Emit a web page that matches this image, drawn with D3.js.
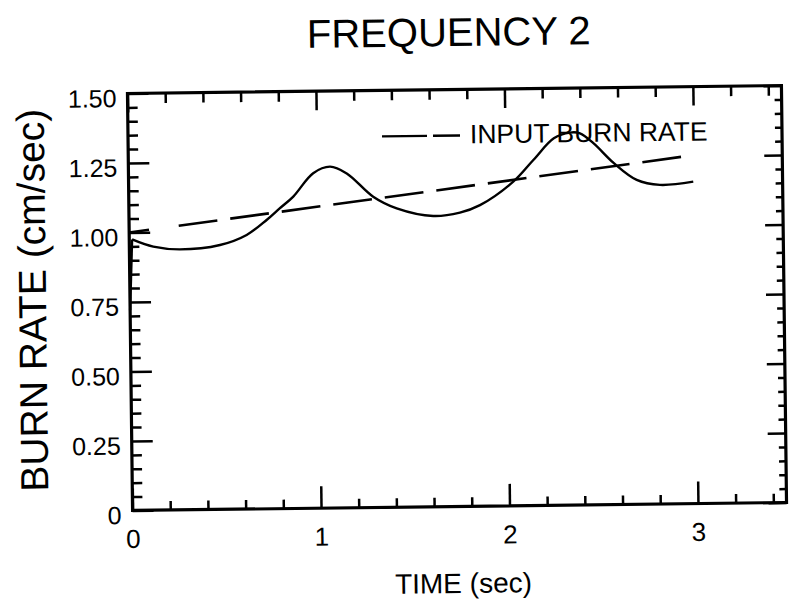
<!DOCTYPE html>
<html>
<head>
<meta charset="utf-8">
<script src="https://cdn.jsdelivr.net/npm/d3@7/dist/d3.min.js"></script>
<style>
  html, body { margin: 0; padding: 0; background: #fff; }
  svg { display: block; font-family: "Liberation Sans", Arial, Helvetica, sans-serif; }
</style>
</head>
<body>
<svg id="chart" width="792" height="607"></svg>
<script>
// ---- data ----
const timeSec  = [0, 0.015, 0.127, 0.268, 0.481, 0.623, 0.730, 0.800, 0.873, 0.980, 1.070, 1.158, 1.297, 1.421, 1.614, 1.756, 1.863, 2.041, 2.149, 2.259, 2.345, 2.398, 2.470, 2.576, 2.696, 2.819, 2.996];
const burnRate = [0.72, 0.975, 0.948, 0.937, 0.951, 0.986, 1.039, 1.080, 1.122, 1.205, 1.228, 1.203, 1.118, 1.075, 1.046, 1.057, 1.083, 1.166, 1.243, 1.320, 1.340, 1.337, 1.300, 1.228, 1.167, 1.148, 1.158];
const inputTime = [0, 2.96];
const inputRate = [1.0, 1.25];

const xMajor = [0, 1, 2, 3];
const xLabels = ["0", "1", "2", "3"];
const xMinor = [0.2, 0.4, 0.6, 0.8, 1.2, 1.4, 1.6, 1.8, 2.2, 2.4, 2.6, 2.8, 3.2, 3.4];
const yMajor = [0, 0.25, 0.5, 0.75, 1.0, 1.25, 1.5];
const yLabels = ["0", "0.25", "0.50", "0.75", "1.00", "1.25", "1.50"];
const yMinor = [0.05,0.1,0.15,0.2,0.3,0.35,0.4,0.45,0.55,0.6,0.65,0.7,0.8,0.85,0.9,0.95,1.05,1.1,1.15,1.2,1.3,1.35,1.4,1.45];

const titleText = "FREQUENCY 2";
const xTitle = "TIME (sec)";
const yTitle = "BURN RATE (cm/sec)";
const legendText = "INPUT BURN RATE";

// ---- layout ----
const L = 130, R = 784, T = 89.5, B = 506.5;
const x = d3.scaleLinear().domain([0, 3.47]).range([L, R]);
const y = d3.scaleLinear().domain([0, 1.5]).range([B, T]);

const svg = d3.select("#chart");
const g = svg.append("g").attr("transform", "rotate(-0.7, 457, 298)");

function styleAxis(sel, fontSize) {
  sel.select(".domain").remove();
  sel.selectAll(".tick line").attr("stroke", "#000").attr("stroke-width", 2.5);
  sel.selectAll(".tick text").attr("fill", "#000").attr("font-size", fontSize)
     .attr("font-family", "'Liberation Sans', Arial, sans-serif");
}

// left axis
g.append("g").attr("transform", `translate(${L},0)`)
  .call(d3.axisLeft(y).tickValues(yMinor).tickSize(-10).tickFormat(""))
  .call(s => styleAxis(s, 25));
g.append("g").attr("transform", `translate(${L},0)`)
  .call(d3.axisLeft(y).tickValues(yMajor).tickSize(-21).tickPadding(11)
        .tickFormat((d, i) => yLabels[i]))
  .call(s => styleAxis(s, 25))
  .call(s => s.selectAll(".tick text").attr("dy", "0.52em"));

// right axis
g.append("g").attr("transform", `translate(${R},0)`)
  .call(d3.axisRight(y).tickValues(yMinor).tickSize(-7).tickFormat(""))
  .call(s => styleAxis(s, 25));
g.append("g").attr("transform", `translate(${R},0)`)
  .call(d3.axisRight(y).tickValues(yMajor).tickSize(-18).tickFormat(""))
  .call(s => styleAxis(s, 25));

// top axis
g.append("g").attr("transform", `translate(0,${T})`)
  .call(d3.axisTop(x).tickValues(xMinor).tickSize(-10).tickFormat(""))
  .call(s => styleAxis(s, 25));
g.append("g").attr("transform", `translate(0,${T})`)
  .call(d3.axisTop(x).tickValues(xMajor).tickSize(-19).tickFormat(""))
  .call(s => styleAxis(s, 25));

// bottom axis
g.append("g").attr("transform", `translate(0,${B})`)
  .call(d3.axisBottom(x).tickValues(xMinor).tickSize(-9).tickFormat(""))
  .call(s => styleAxis(s, 25));
g.append("g").attr("transform", `translate(0,${B})`)
  .call(d3.axisBottom(x).tickValues(xMajor).tickSize(-22).tickPadding(19)
        .tickFormat((d, i) => xLabels[i]))
  .call(s => styleAxis(s, 26));

// frame
g.append("rect").attr("x", L).attr("y", T).attr("width", R - L).attr("height", B - T)
  .attr("fill", "none").attr("stroke", "#000").attr("stroke-width", 3.2);

// input burn rate (dashed)
const dashPattern = ["20", "30"];
for (let i = 0; i < 14; i++) dashPattern.push("39", "13");
const inputLine = d3.line().x(d => x(d[0])).y(d => y(d[1]));
g.append("path")
  .datum(inputTime.map((t, i) => [t, inputRate[i]]))
  .attr("d", inputLine)
  .attr("fill", "none").attr("stroke", "#000").attr("stroke-width", 2.6)
  .attr("stroke-dasharray", dashPattern.join(","));

// computed burn rate (solid): initial rise, then smooth response
const pts = timeSec.map((t, i) => [t, burnRate[i]]);
const rise = d3.line().x(d => x(d[0])).y(d => y(d[1]));
const smooth = d3.line().x(d => x(d[0])).y(d => y(d[1])).curve(d3.curveCatmullRom.alpha(0.5));
g.append("path").datum(pts.slice(0, 2)).attr("d", rise)
  .attr("fill", "none").attr("stroke", "#000").attr("stroke-width", 2.4);
g.append("path").datum(pts.slice(1)).attr("d", smooth)
  .attr("fill", "none").attr("stroke", "#000").attr("stroke-width", 2.4)
  .attr("stroke-linejoin", "round");

// legend
g.append("line").attr("x1", 384).attr("x2", 462).attr("y1", 135.5).attr("y2", 135.5)
  .attr("stroke", "#000").attr("stroke-width", 2.4).attr("stroke-dasharray", "45,6");
g.append("text").attr("x", 472).attr("y", 143.5).attr("font-size", 26.5)
  .attr("fill", "#000").text(legendText);

// titles
g.append("text").attr("x", 452).attr("y", 46).attr("text-anchor", "middle")
  .attr("font-size", 40).attr("fill", "#000").text(titleText);
g.append("text").attr("x", 460).attr("y", 593).attr("text-anchor", "middle")
  .attr("font-size", 28).attr("fill", "#000").text(xTitle);
g.append("text").attr("transform", "translate(46,295) rotate(-90)")
  .attr("text-anchor", "middle").attr("font-size", 39).attr("fill", "#000").text(yTitle);
</script>
</body>
</html>
